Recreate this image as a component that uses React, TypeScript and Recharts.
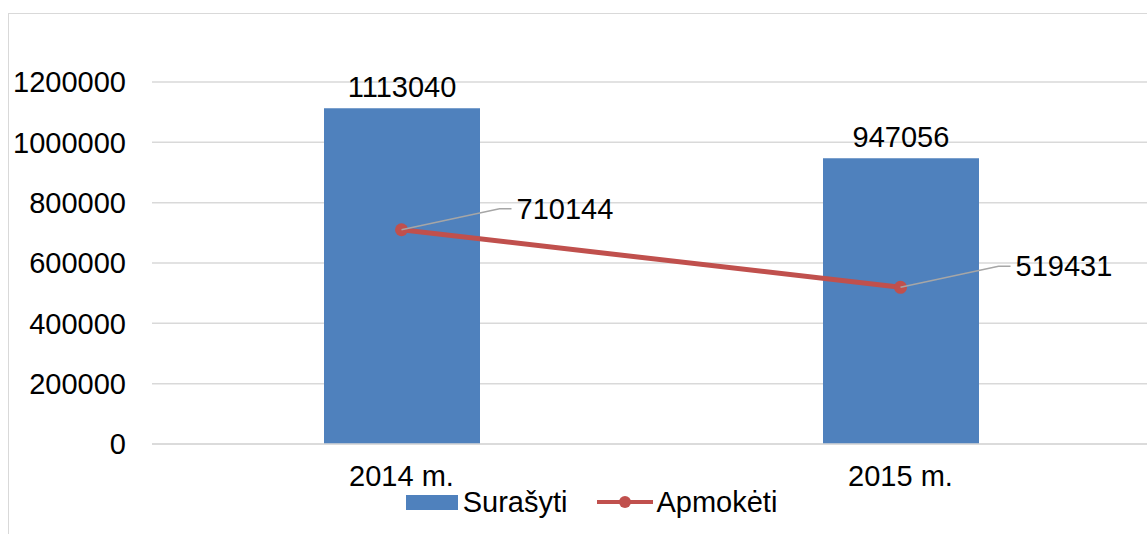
import { ComposedChart, Bar, Line, XAxis, YAxis, CartesianGrid, Legend, LabelList } from 'recharts';

const years = ['2014 m.', '2015 m.'];
const surasyti = [1113040, 947056];
const apmoketi = [710144, 519431];
const yTicks = [0, 200000, 400000, 600000, 800000, 1000000, 1200000];
const seriesNames = ['Surašyti', 'Apmokėti'];

const BAR = '#4f81bd';
const LINE = '#c0504d';
const GRID = '#d9d9d9';
const FONT = '"Liberation Sans", Arial, sans-serif';
const FS = 29;

const data = years.map((year, i) => ({
  year,
  surasyti: surasyti[i],
  apmoketi: apmoketi[i],
}));

// leader line + value, like the Excel callout labels
function LineLabel(props: any) {
  const { x, y, value } = props;
  const bx = x + 98;
  const by = y - 21;
  return (
    <g>
      <polyline
        points={`${x},${y} ${bx},${by} ${bx + 12},${by}`}
        fill="none"
        stroke="#a6a6a6"
        strokeWidth={1.5}
      />
      <text x={bx + 17} y={by} dominantBaseline="central" fontSize={FS} fill="#000">
        {value}
      </text>
    </g>
  );
}

function renderLegend() {
  return (
    <div
      style={{
        display: 'flex',
        justifyContent: 'center',
        alignItems: 'center',
        height: 30,
        paddingLeft: 24,
        fontSize: FS,
        color: '#000',
        fontFamily: FONT,
      }}
    >
      <span style={{ display: 'inline-block', width: 52, height: 15, background: BAR, marginRight: 5 }} />
      <span>{seriesNames[0]}</span>
      <svg width={56} height={14} style={{ marginLeft: 30, marginRight: 3 }}>
        <line x1={0} y1={7} x2={56} y2={7} stroke={LINE} strokeWidth={4} />
        <circle cx={28} cy={7} r={6} fill={LINE} />
      </svg>
      <span>{seriesNames[1]}</span>
    </div>
  );
}

export default function App() {
  return (
    <div
      style={{
        position: 'fixed',
        left: 0,
        top: 0,
        width: 1147,
        height: 534,
        overflow: 'hidden',
        background: '#fff',
        fontFamily: FONT,
      }}
    >
      <div
        style={{
          position: 'absolute',
          left: 8,
          top: 13,
          width: 1200,
          height: 600,
          border: `1px solid ${GRID}`,
        }}
      >
        <ComposedChart
          width={1141}
          height={520}
          data={data}
          margin={{ top: 68, right: 0, bottom: 17, left: 0 }}
        >
          <CartesianGrid vertical={false} stroke={GRID} strokeWidth={1.5} />
          <XAxis
            dataKey="year"
            axisLine={{ stroke: GRID, strokeWidth: 1.5 }}
            tickLine={false}
            tickSize={0}
            tickMargin={21}
            height={43}
            tick={{ fill: '#000', fontSize: FS }}
          />
          <YAxis
            domain={[0, 1200000]}
            ticks={yTicks}
            axisLine={false}
            tickLine={false}
            tickSize={0}
            tickMargin={26}
            width={143}
            tick={{ fill: '#000', fontSize: FS }}
          />
          <Legend verticalAlign="bottom" content={renderLegend} />
          <Bar dataKey="surasyti" name={seriesNames[0]} fill={BAR} barSize={156} isAnimationActive={false}>
            <LabelList dataKey="surasyti" position="top" offset={11} fill="#000" fontSize={FS} />
          </Bar>
          <Line
            type="linear"
            dataKey="apmoketi"
            name={seriesNames[1]}
            stroke={LINE}
            strokeWidth={5}
            dot={{ r: 6.5, fill: LINE, stroke: LINE, strokeWidth: 0 }}
            activeDot={false}
            isAnimationActive={false}
          >
            <LabelList dataKey="apmoketi" content={LineLabel} />
          </Line>
        </ComposedChart>
      </div>
    </div>
  );
}
